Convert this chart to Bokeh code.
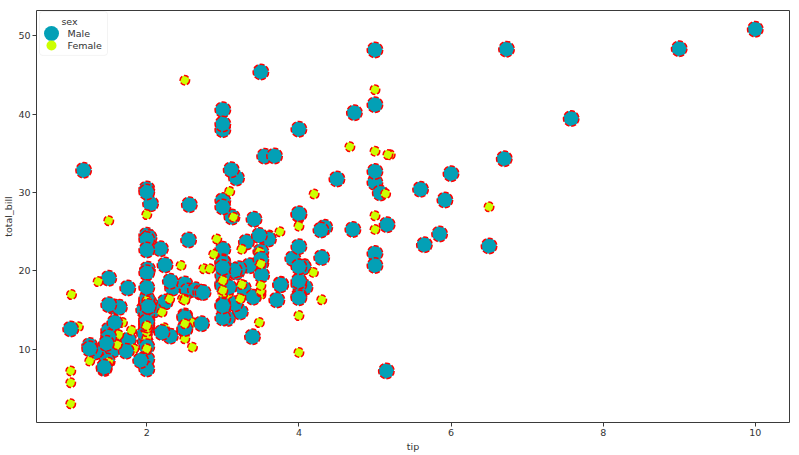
from bokeh.plotting import figure
from bokeh.models import ColumnDataSource, Range1d, FixedTicker, BoxAnnotation, Label
from bokeh.embed import file_html
from bokeh.resources import INLINE

total_bill = [16.99,10.34,21.01,23.68,24.59,25.29,8.77,26.88,15.04,14.78,10.27,35.26,15.42,18.43,14.83,21.58,10.33,16.29,16.97,20.65,
17.92,20.29,15.77,39.42,19.82,17.81,13.37,12.69,21.7,19.65,9.55,18.35,15.06,20.69,17.78,24.06,16.31,16.93,18.69,31.27,
16.04,17.46,13.94,9.68,30.4,18.29,22.23,32.4,28.55,18.04,12.54,10.29,34.81,9.94,25.56,19.49,38.01,26.41,11.24,48.27,
20.29,13.81,11.02,18.29,17.59,20.08,16.45,3.07,20.23,15.01,12.02,17.07,26.86,25.28,14.73,10.51,17.92,27.2,22.76,17.29,
19.44,16.66,10.07,32.68,15.98,34.83,13.03,18.28,24.71,21.16,28.97,22.49,5.75,16.32,22.75,40.17,27.28,12.03,21.01,12.46,
11.35,15.38,44.3,22.42,20.92,15.36,20.49,25.21,18.24,14.31,14.0,7.25,38.07,23.95,25.71,17.31,29.93,10.65,12.43,24.08,
11.69,13.42,14.26,15.95,12.48,29.8,8.52,14.52,11.38,22.82,19.08,20.27,11.17,12.26,18.26,8.51,10.33,14.15,16.0,13.16,
17.47,34.3,41.19,27.05,16.43,8.35,18.64,11.87,9.78,7.51,14.07,13.13,17.26,24.55,19.77,29.85,48.17,25.0,13.39,16.49,
21.5,12.66,16.21,13.81,17.51,24.52,20.76,31.71,10.59,10.63,50.81,15.81,7.25,31.85,16.82,32.9,17.89,14.48,9.6,34.63,
34.65,23.33,45.35,23.17,40.55,20.69,20.9,30.46,18.15,23.1,15.69,19.81,28.44,15.48,16.58,7.56,10.34,43.11,13.0,13.51,
18.71,12.74,13.0,16.4,20.53,16.47,26.59,38.73,24.27,12.76,30.06,25.89,48.33,13.27,28.17,12.9,28.15,11.59,7.74,30.14,
12.16,13.42,8.58,15.98,13.42,16.27,10.09,20.45,13.28,22.12,24.01,15.69,11.61,10.77,15.53,10.07,12.6,32.83,35.83,29.03,
27.18,22.67,17.82,18.78]

tip = [1.01,1.66,3.5,3.31,3.61,4.71,2.0,3.12,1.96,3.23,1.71,5.0,1.57,3.0,3.02,3.92,1.67,3.71,3.5,3.35,
4.08,2.75,2.23,7.58,3.18,2.34,2.0,2.0,4.3,3.0,1.45,2.5,3.0,2.45,3.27,3.6,2.0,3.07,2.31,5.0,
2.24,2.54,3.06,1.32,5.6,3.0,5.0,6.0,2.05,3.0,2.5,2.6,5.2,1.56,4.34,3.51,3.0,1.5,1.76,6.73,
3.21,2.0,1.98,3.76,2.64,3.15,2.47,1.0,2.01,2.09,1.97,3.0,3.14,5.0,2.2,1.25,3.08,4.0,3.0,2.71,
3.0,3.4,1.83,5.0,2.03,5.17,2.0,4.0,5.85,3.0,3.0,3.5,1.0,4.3,3.25,4.73,4.0,1.5,3.0,1.5,
2.5,3.0,2.5,3.48,4.08,1.64,4.06,4.29,3.76,4.0,3.0,1.0,4.0,2.55,4.0,3.5,5.07,1.5,1.8,2.92,
2.31,1.68,2.5,2.0,2.52,4.2,1.48,2.0,2.0,2.18,1.5,2.83,1.5,2.0,3.25,1.25,2.0,2.0,2.0,2.75,
3.5,6.7,5.0,5.0,2.3,1.5,1.36,1.63,1.73,2.0,2.5,2.0,2.74,2.0,2.0,5.14,5.0,3.75,2.61,2.0,
3.5,2.5,2.0,2.0,3.0,3.48,2.24,4.5,1.61,2.0,10.0,3.16,5.15,3.18,4.0,3.11,2.0,2.0,4.0,3.55,
3.68,5.65,3.5,6.5,3.0,5.0,3.5,2.0,3.5,4.0,1.5,4.19,2.56,2.02,4.0,1.44,2.0,5.0,2.0,2.0,
4.0,2.01,2.0,2.5,4.0,3.23,3.41,3.0,2.03,2.23,2.0,5.16,9.0,2.5,6.5,1.1,3.0,1.5,1.44,3.09,
2.2,3.48,1.92,3.0,1.58,2.5,2.0,3.0,2.72,2.88,2.0,3.0,3.39,1.47,3.0,1.25,1.0,1.17,4.67,5.92,
2.0,2.0,1.75,3.0]

sex_code = ("FMMMFMMMMMMFMMFMFMFM"
            "MFFMMMMMMFMMFFMMMFMM"
            "MMMMMMMMMMMFFMMMMFMM"
            "MMMMMMFFMMMFFFFMMMMM"
            "MMFMMFMMMMMMFFFMMMMM"
            "FFFFFMMMMFMFMMFFMFFF"
            "MFMMFFMFFMMFFFFFFFMF"
            "FMMFFFFFMMMMMMMFMFFM"
            "MMFMFMMMFFMMMMMMMMFM"
            "MMMMMMFMFMMFMMMMMFFM"
            "MFFFMFMMMFMMMFFFMMMF"
            "MFMFMFFMMFMMMMMMMMFM"
            "FMMF")

sex = ["Male" if c == "M" else "Female" for c in sex_code]
assert len(sex) == len(tip) == len(total_bill) == 244
sex_levels = ["Male", "Female"]
sex_colors = {"Male": "#03a0b6", "Female": "#ccff00"}
sex_sizes = {"Male": 15.5, "Female": 9.5}

src = ColumnDataSource(dict(
    tip=tip, total_bill=total_bill, sex=sex,
    color=[sex_colors[s] for s in sex],
    size=[sex_sizes[s] for s in sex],
))

xmin, xmax = min(tip), max(tip)
ymin, ymax = min(total_bill), max(total_bill)
xm, ym = 0.05 * (xmax - xmin), 0.05 * (ymax - ymin)
x0, x1 = xmin - xm, xmax + xm
y0, y1 = ymin - ym, ymax + ym

p = figure(width=791, height=454, output_backend="svg", toolbar_location=None,
           x_range=Range1d(x0, x1), y_range=Range1d(y0, y1),
           min_border_left=0, min_border_right=2, min_border_top=10, min_border_bottom=0)
p.background_fill_color = "white"
p.border_fill_color = "white"
p.grid.visible = False
p.outline_line_color = "#3a3a3a"
p.outline_line_width = 1

p.xaxis.ticker = FixedTicker(ticks=[2, 4, 6, 8, 10])
p.yaxis.ticker = FixedTicker(ticks=[10, 20, 30, 40, 50])
p.xaxis.axis_label = "tip"
p.yaxis.axis_label = "total_bill"
for ax in (p.xaxis, p.yaxis):
    ax.axis_line_color = None
    ax.major_tick_out = 4
    ax.major_tick_in = 0
    ax.minor_tick_line_color = None
    ax.major_tick_line_color = "#3a3a3a"
    ax.major_label_text_font = "DejaVu Sans"
    ax.major_label_text_font_size = "9.5px"
    ax.major_label_text_color = "#333333"
    ax.major_label_standoff = 2
    ax.axis_label_text_font = "DejaVu Sans"
    ax.axis_label_text_font_size = "9.5px"
    ax.axis_label_text_font_style = "normal"
    ax.axis_label_text_color = "#333333"
    ax.axis_label_standoff = 2
p.yaxis.axis_label_standoff = 1

p.scatter("tip", "total_bill", source=src, size="size", fill_color="color",
          line_color="red", line_width=1.5, line_dash="5 2")

# manual legend (positions given in frame pixels, converted to data units)
fw, fh = 753.0, 413.0
def fx(px):
    return x0 + px * (x1 - x0) / fw
def fy(py):
    return y1 - py * (y1 - y0) / fh

p.add_layout(BoxAnnotation(left=fx(3), right=fx(71), top=fy(1), bottom=fy(45),
                           fill_color="white", fill_alpha=0.85, line_color="#d6d6d6",
                           line_width=1, border_radius=3))
p.add_layout(Label(x=fx(33), y=fy(11), text="sex", text_font="DejaVu Sans",
                   text_font_size="9.5px", text_color="#333333",
                   text_align="center", text_baseline="middle"))
leg_y = [fy(23), fy(35)]
leg_src = ColumnDataSource(dict(
    x=[fx(15), fx(15)], y=leg_y,
    color=[sex_colors[s] for s in sex_levels],
    size=[15, 10],
))
p.scatter("x", "y", source=leg_src, size="size", fill_color="color", line_color=None,
          level="overlay")
for s, yy in zip(sex_levels, leg_y):
    p.add_layout(Label(x=fx(31), y=yy, text=s, text_font="DejaVu Sans",
                       text_font_size="9.5px", text_color="#333333",
                       text_baseline="middle"))

open("out.html", "w").write(file_html(p, INLINE))
